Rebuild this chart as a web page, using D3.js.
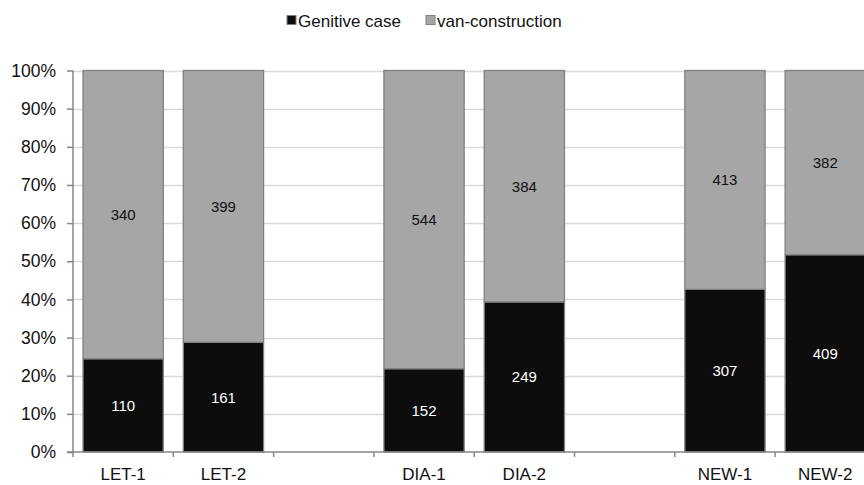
<!DOCTYPE html>
<html><head><meta charset="utf-8">
<script src="https://cdn.jsdelivr.net/npm/d3@7"></script>
<style>body{margin:0;background:#fff}svg{display:block}text{font-family:"Liberation Sans",Arial,sans-serif}</style>
</head><body><svg id="c" width="864" height="485"></svg>
<script>
const slots = ["LET-1","LET-2","","DIA-1","DIA-2","","NEW-1","NEW-2"];
const genitive = [110,161,null,152,249,null,307,409];
const vanCons = [340,399,null,544,384,null,413,382];
const seriesNames = ["Genitive case","van-construction"];
const colors = ["#0d0d0d","#a6a6a6"];
const yTicks = [0,0.1,0.2,0.3,0.4,0.5,0.6,0.7,0.8,0.9,1];

const svg = d3.select("#c");
const x = d3.scaleBand().domain(d3.range(slots.length)).range([73, 875.4]).paddingInner(0.2).paddingOuter(0.1);
const y = d3.scaleLinear().domain([0,1]).range([452, 70.5]);

// gridlines
svg.append("g").selectAll("line").data(yTicks.slice(1)).join("line")
  .attr("x1",73).attr("x2",864).attr("y1",d=>Math.round(y(d))+0.5).attr("y2",d=>Math.round(y(d))+0.5)
  .attr("stroke","#d9d9d9").attr("stroke-width",1.5);

// bars
const g = svg.append("g");
slots.forEach((s,i)=>{
  if(genitive[i]==null) return;
  const tot = genitive[i]+vanCons[i];
  const p = genitive[i]/tot;
  const segs = [[0,p,genitive[i],0],[p,1,vanCons[i],1]];
  segs.forEach(([a,b,v,k])=>{
    g.append("rect").attr("x",x(i)).attr("width",x.bandwidth())
      .attr("y",y(b)).attr("height",y(a)-y(b))
      .attr("fill",colors[k]).attr("stroke","#808080").attr("stroke-width",1.3);
    g.append("text").attr("x",x(i)+x.bandwidth()/2).attr("y",(y(a)+y(b))/2)
      .attr("text-anchor","middle").attr("dy","0.36em").attr("font-size",15)
      .attr("fill",k===0?"#fff":"#111").text(v);
  });
});

// y axis
const yAxis = d3.axisLeft(y).tickValues(yTicks).tickFormat(d3.format(".0%")).tickSize(6).tickPadding(11);
const ya = svg.append("g").attr("transform","translate(73,0)").call(yAxis);
ya.selectAll("path,line").attr("stroke","#868686").attr("stroke-width",1.5);
ya.select(".domain").attr("d","M0,452V70.5");
ya.selectAll("text").attr("font-size",17.5).attr("fill","#111").style("font-family","Liberation Sans, Arial, sans-serif");

// x axis
const xa = svg.append("g").attr("transform","translate(0,452)");
xa.append("line").attr("x1",67).attr("x2",864).attr("stroke","#868686").attr("stroke-width",1.5);
const step = x.step();
d3.range(slots.length+1).forEach(i=>{
  const xx = 73 + i*step;
  xa.append("line").attr("x1",xx).attr("x2",xx).attr("y1",0).attr("y2",5).attr("stroke","#868686").attr("stroke-width",1.5);
});
xa.selectAll("text.xl").data(slots).join("text").attr("class","xl")
  .attr("x",(d,i)=>x(i)+x.bandwidth()/2).attr("y",27.5)
  .attr("text-anchor","middle").attr("font-size",17).attr("fill","#111").text(d=>d);

// legend
const leg = svg.append("g");
const legX = [287, 426];
seriesNames.forEach((n,i)=>{
  leg.append("rect").attr("x",legX[i]).attr("y",15.5).attr("width",9).attr("height",9)
    .attr("fill",colors[i]).attr("stroke","#808080").attr("stroke-width",1);
  leg.append("text").attr("x",legX[i]+11).attr("y",26.5).attr("font-size",17).attr("fill","#111").text(n);
});
</script></body></html>
